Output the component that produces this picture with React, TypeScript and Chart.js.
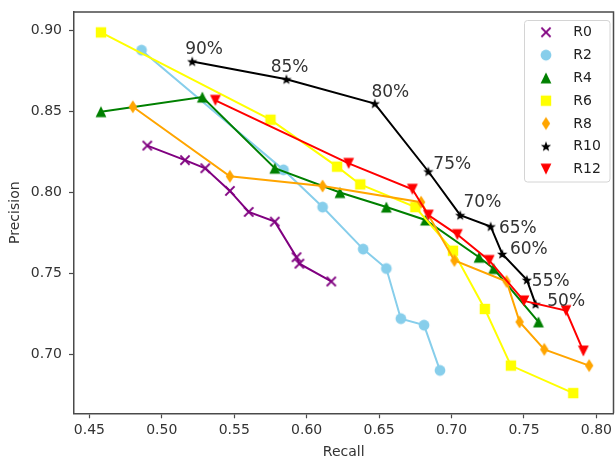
import React, { useEffect, useRef } from 'react';
import { Chart, registerables } from 'chart.js';

Chart.register(...registerables);

// ---- data ----
const seriesNames = ['R0', 'R2', 'R4', 'R6', 'R8', 'R10', 'R12'];

const r0Recall = [0.490, 0.516, 0.530, 0.547, 0.560, 0.578, 0.593, 0.595, 0.617];
const r0Precision = [0.829, 0.820, 0.815, 0.801, 0.788, 0.782, 0.760, 0.756, 0.745];

const r2Recall = [0.486, 0.584, 0.611, 0.639, 0.655, 0.665, 0.681, 0.692];
const r2Precision = [0.888, 0.814, 0.791, 0.765, 0.753, 0.722, 0.718, 0.690];

const r4Recall = [0.458, 0.528, 0.578, 0.623, 0.655, 0.682, 0.719, 0.729, 0.760];
const r4Precision = [0.850, 0.859, 0.815, 0.800, 0.791, 0.783, 0.760, 0.753, 0.720];

const r6Recall = [0.458, 0.575, 0.621, 0.637, 0.675, 0.701, 0.723, 0.741, 0.784];
const r6Precision = [0.899, 0.845, 0.816, 0.805, 0.791, 0.764, 0.728, 0.693, 0.676];

const r8Recall = [0.480, 0.547, 0.611, 0.679, 0.702, 0.738, 0.747, 0.764, 0.795];
const r8Precision = [0.853, 0.810, 0.804, 0.794, 0.758, 0.745, 0.720, 0.703, 0.693];

const r10Recall = [0.521, 0.586, 0.647, 0.684, 0.706, 0.727, 0.735, 0.752, 0.758];
const r10Precision = [0.881, 0.870, 0.855, 0.813, 0.786, 0.779, 0.762, 0.746, 0.731];
const r10Labels = ['90%', '85%', '80%', '75%', '70%', '65%', '60%', '55%', '50%'];

const r12Recall = [0.537, 0.629, 0.673, 0.684, 0.704, 0.726, 0.750, 0.779, 0.791];
const r12Precision = [0.857, 0.818, 0.802, 0.786, 0.774, 0.758, 0.733, 0.727, 0.702];

const xTicks = [0.45, 0.50, 0.55, 0.60, 0.65, 0.70, 0.75, 0.80];
const yTicks = [0.70, 0.75, 0.80, 0.85, 0.90];

// ---- styling ----
const recallLists = [r0Recall, r2Recall, r4Recall, r6Recall, r8Recall, r10Recall, r12Recall];
const precisionLists = [r0Precision, r2Precision, r4Precision, r6Precision, r8Precision, r10Precision, r12Precision];
const colors = ['#800080', '#87CEEB', '#008000', '#FFFF00', '#FFA500', '#000000', '#FF0000'];
const markerKinds = ['x', 'o', '^', 's', 'd', '*', 'v'];
// label placement offsets (px) relative to each R10 point: left edge / baseline
const labelOffsets = [
  [-7, -7.5], [-15.7, -7.3], [-3.3, -6.6], [5, -2.4], [3.3, -8.4],
  [8.3, 6.6], [7.7, 0], [5, 5.7], [11.7, 2],
];

const FONT = "'DejaVu Sans', sans-serif";
const AXIS_COLOR = '#4a4a4a';
const TEXT_COLOR = '#333333';

function makeMarker(kind: string, color: string): HTMLCanvasElement {
  const s = 16;
  const c = document.createElement('canvas');
  c.width = s;
  c.height = s;
  const ctx = c.getContext('2d')!;
  const m = s / 2;
  ctx.fillStyle = color;
  ctx.strokeStyle = color;
  ctx.beginPath();
  switch (kind) {
    case 'x': {
      const r = 4.6;
      ctx.lineWidth = 2;
      ctx.moveTo(m - r, m - r);
      ctx.lineTo(m + r, m + r);
      ctx.moveTo(m + r, m - r);
      ctx.lineTo(m - r, m + r);
      ctx.stroke();
      break;
    }
    case 'o':
      ctx.arc(m, m, 5.4, 0, Math.PI * 2);
      ctx.fill();
      break;
    case '^': {
      const r = 5.4;
      ctx.moveTo(m, m - r);
      ctx.lineTo(m + r, m + r);
      ctx.lineTo(m - r, m + r);
      ctx.closePath();
      ctx.fill();
      break;
    }
    case 'v': {
      const r = 5.4;
      ctx.moveTo(m, m + r);
      ctx.lineTo(m + r, m - r);
      ctx.lineTo(m - r, m - r);
      ctx.closePath();
      ctx.fill();
      break;
    }
    case 's': {
      const r = 5.2;
      ctx.rect(m - r, m - r, 2 * r, 2 * r);
      ctx.fill();
      break;
    }
    case 'd': {
      const w = 4.2;
      const h = 6.6;
      ctx.moveTo(m, m - h);
      ctx.lineTo(m + w, m);
      ctx.lineTo(m, m + h);
      ctx.lineTo(m - w, m);
      ctx.closePath();
      ctx.fill();
      break;
    }
    case '*': {
      const ro = 5.4;
      const ri = ro * 0.42;
      for (let k = 0; k < 10; k++) {
        const r = k % 2 === 0 ? ro : ri;
        const a = -Math.PI / 2 + (k * Math.PI) / 5;
        const px = m + r * Math.cos(a);
        const py = m + r * Math.sin(a) + 0.5;
        if (k === 0) ctx.moveTo(px, py);
        else ctx.lineTo(px, py);
      }
      ctx.closePath();
      ctx.fill();
      break;
    }
  }
  return c;
}

const zeroPad = (s: any) => {
  s.paddingLeft = 0;
  s.paddingRight = 0;
  s.paddingTop = 0;
  s.paddingBottom = 0;
};

export default function App() {
  const ref = useRef<HTMLCanvasElement>(null);

  useEffect(() => {
    document.body.style.margin = '0';
    const markers = markerKinds.map((k, i) => makeMarker(k, colors[i]));

    const datasets = seriesNames.map((name, i) => ({
      label: name,
      data: recallLists[i].map((x, j) => ({ x, y: precisionLists[i][j] })),
      showLine: true,
      borderColor: colors[i],
      backgroundColor: colors[i],
      borderWidth: 2,
      pointStyle: markers[i] as any,
      pointRadius: 5,
      order: -i,
    }));

    const framePlugin = {
      id: 'frame',
      afterDraw(chart: any) {
        const { ctx, chartArea } = chart;
        ctx.save();
        ctx.strokeStyle = AXIS_COLOR;
        ctx.lineWidth = 1.5;
        ctx.beginPath();
        ctx.moveTo(chartArea.left, chartArea.top);
        ctx.lineTo(chartArea.right, chartArea.top);
        ctx.lineTo(chartArea.right, chartArea.bottom);
        ctx.stroke();
        ctx.restore();
      },
    };

    const labelPlugin = {
      id: 'pctLabels',
      afterDatasetsDraw(chart: any) {
        const meta = chart.getDatasetMeta(5);
        const ctx = chart.ctx;
        ctx.save();
        ctx.font = `17px ${FONT}`;
        ctx.fillStyle = TEXT_COLOR;
        ctx.textAlign = 'left';
        ctx.textBaseline = 'alphabetic';
        meta.data.forEach((pt: any, j: number) => {
          const [dx, dy] = labelOffsets[j];
          ctx.fillText(r10Labels[j], pt.x + dx, pt.y + dy);
        });
        ctx.restore();
      },
    };

    const legendPlugin = {
      id: 'innerLegend',
      afterDraw(chart: any) {
        const ctx = chart.ctx;
        const bx = 524;
        const by = 20;
        const bw = 85.5;
        const bh = 161.5;
        ctx.save();
        ctx.beginPath();
        ctx.roundRect(bx + 0.5, by + 0.5, bw, bh, 3);
        ctx.fillStyle = 'rgba(255,255,255,0.8)';
        ctx.fill();
        ctx.strokeStyle = '#d4d4d4';
        ctx.lineWidth = 1;
        ctx.stroke();
        ctx.font = `14px ${FONT}`;
        ctx.fillStyle = '#222';
        ctx.textAlign = 'left';
        ctx.textBaseline = 'middle';
        seriesNames.forEach((name, i) => {
          const y = 32.3 + i * 22.8;
          const mk = markers[i];
          ctx.drawImage(mk, 546 - mk.width / 2, y - mk.height / 2);
          ctx.fillText(name, 573.3, y + 0.5);
        });
        ctx.restore();
      },
    };

    const chart = new Chart(ref.current!, {
      type: 'scatter',
      data: { datasets: datasets as any },
      options: {
        animation: false,
        responsive: false,
        events: [],
        layout: { autoPadding: false, padding: { top: 12, right: 1.5, left: 0, bottom: 0 } },
        plugins: {
          legend: { display: false },
          tooltip: { enabled: false },
        },
        scales: {
          x: {
            type: 'linear',
            min: 0.4394,
            max: 0.8118,
            afterBuildTicks: (s: any) => {
              s.ticks = xTicks.map((v) => ({ value: v }));
            },
            afterFit: (s: any) => {
              s.height = 45.7;
              zeroPad(s);
            },
            ticks: {
              callback: (v: any) => Number(v).toFixed(2),
              font: { family: FONT, size: 14 },
              color: TEXT_COLOR,
              padding: 4,
              maxRotation: 0,
              autoSkip: false,
            },
            grid: {
              display: true,
              drawOnChartArea: false,
              drawTicks: true,
              tickLength: 5,
              tickWidth: 1.2,
              tickColor: AXIS_COLOR,
            },
            border: { display: true, color: AXIS_COLOR, width: 1.5 },
            title: {
              display: true,
              text: 'Recall',
              font: { family: FONT, size: 14, lineHeight: 1 },
              color: TEXT_COLOR,
              padding: 0,
            },
          },
          y: {
            type: 'linear',
            min: 0.6635,
            max: 0.9116,
            afterBuildTicks: (s: any) => {
              s.ticks = yTicks.map((v) => ({ value: v }));
            },
            afterFit: (s: any) => {
              s.width = 74;
              zeroPad(s);
            },
            ticks: {
              callback: (v: any) => Number(v).toFixed(2),
              font: { family: FONT, size: 14 },
              color: TEXT_COLOR,
              padding: 7,
              autoSkip: false,
            },
            grid: {
              display: true,
              drawOnChartArea: false,
              drawTicks: true,
              tickLength: 5,
              tickWidth: 1.2,
              tickColor: AXIS_COLOR,
            },
            border: { display: true, color: AXIS_COLOR, width: 1.5 },
            title: {
              display: true,
              text: 'Precision',
              font: { family: FONT, size: 14, lineHeight: 1 },
              color: TEXT_COLOR,
              padding: { top: 8, bottom: 0 },
            },
          },
        },
      },
      plugins: [framePlugin, labelPlugin, legendPlugin],
    });

    return () => chart.destroy();
  }, []);

  return (
    <div style={{ width: 615, height: 459 }}>
      <canvas ref={ref} width={615} height={459} style={{ display: 'block' }} />
    </div>
  );
}
